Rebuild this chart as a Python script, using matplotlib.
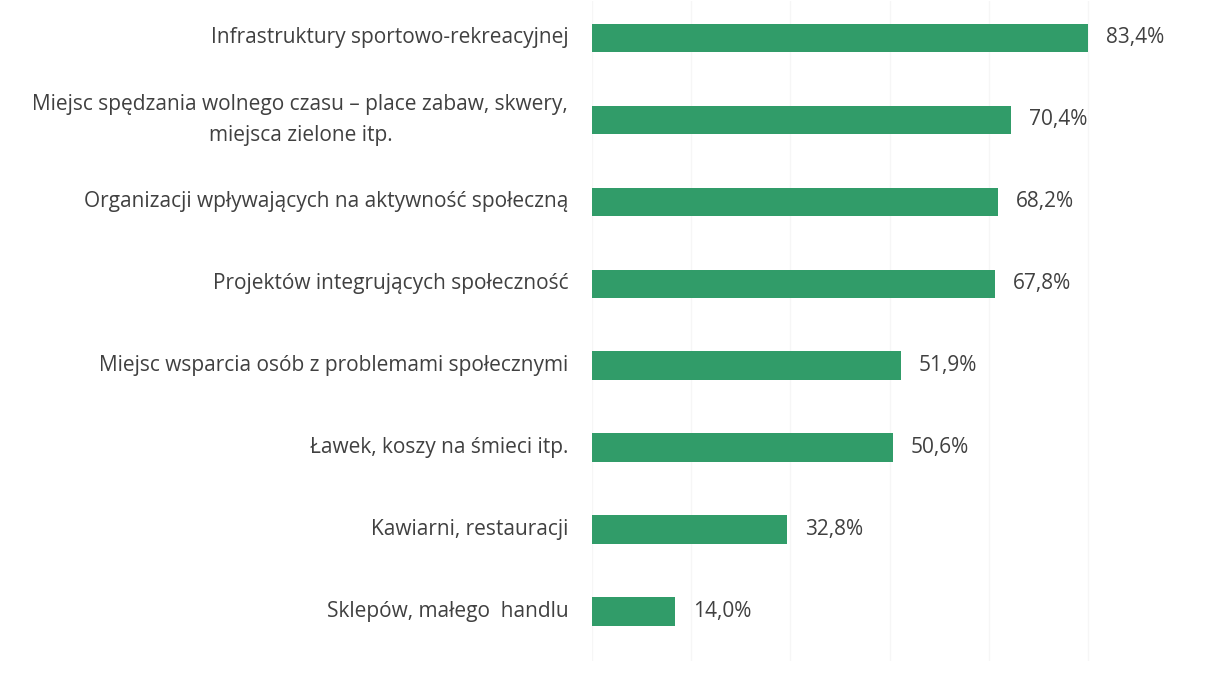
import numpy as np
import matplotlib.pyplot as plt

# dane
kategorie = ["Infrastruktury sportowo-rekreacyjnej",
             "Miejsc spędzania wolnego czasu – place zabaw, skwery,\nmiejsca zielone itp.",
             "Organizacji wpływających na aktywność społeczną",
             "Projektów integrujących społeczność",
             "Miejsc wsparcia osób z problemami społecznymi",
             "Ławek, koszy na śmieci itp.",
             "Kawiarni, restauracji",
             "Sklepów, małego  handlu"]
wartosci = [83.4, 70.4, 68.2, 67.8, 51.9, 50.6, 32.8, 14.0]

plt.rcParams['font.family'] = ['Open Sans', 'DejaVu Sans']
kolor_txt = '#404040'

fig = plt.figure(figsize=(12.19, 6.81), dpi=100)
ax = fig.add_axes([592/1219, 1-661/681, 595/1219, 660/681])

y = np.arange(len(kategorie))
ax.barh(y, wartosci, height=0.35, color='#319c69')
ax.set_xlim(0, 100)
ax.set_ylim(7.6, -0.45)

# delikatna siatka
for gx in np.arange(0, 100, 100/6):
    ax.axvline(gx, color='#f6f6f6', lw=1, zorder=0)

for i, (k, v) in enumerate(zip(kategorie, wartosci)):
    ax.text(-4, i, k, ha='right', va='center', ma='center', fontsize=15,
            color=kolor_txt, linespacing=1.6)
    ax.text(v + 3, i, f"{v:.1f}".replace('.', ',') + "%", ha='left', va='center',
            fontsize=15, color=kolor_txt)

ax.set_xticks([])
ax.set_yticks([])
for s in ax.spines.values():
    s.set_visible(False)

fig.savefig('out.png', dpi=100)
